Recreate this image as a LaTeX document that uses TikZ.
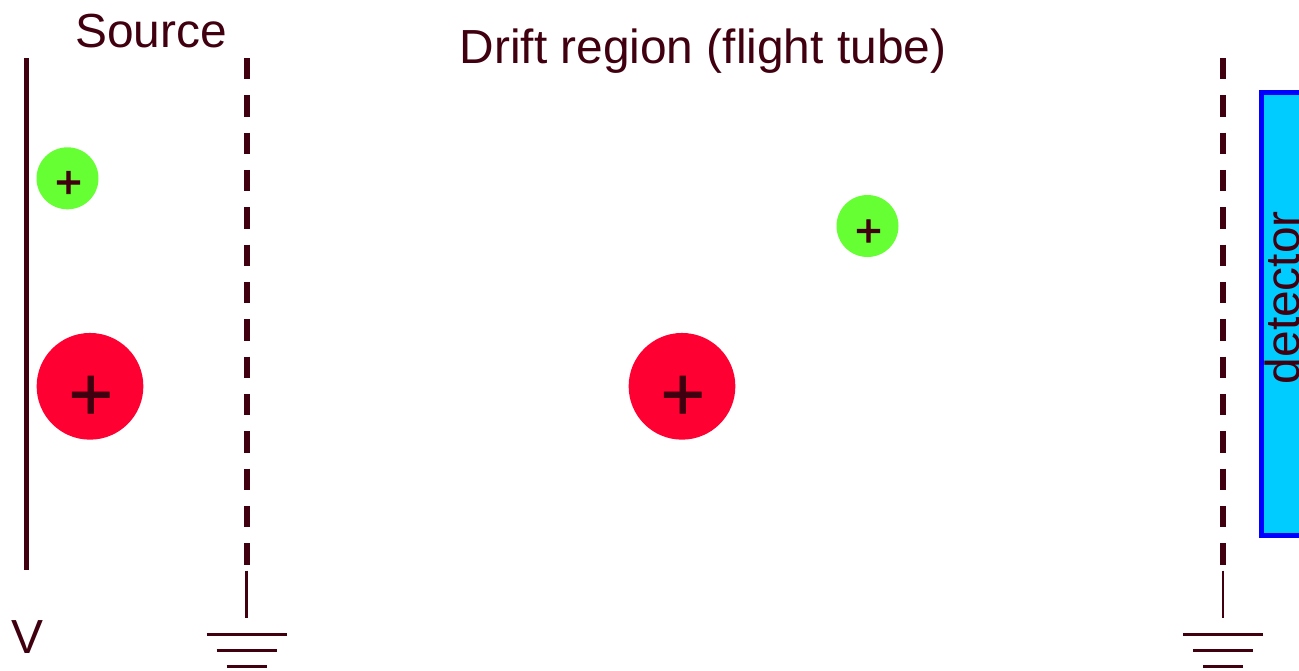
\documentclass[tikz,border=0pt]{standalone}
\usepackage{fontspec}
\setmainfont{Liberation Sans}
\newfontfamily\smallplusfont[FakeBold=2]{Liberation Sans}
\newfontfamily\bigplusfont[FakeBold=1]{Liberation Sans}
\definecolor{ink}{HTML}{400010}
\definecolor{ionG}{HTML}{66FF33}
\definecolor{ionR}{HTML}{FF0033}
\definecolor{detC}{HTML}{00CCFF}
\tikzset{
  txt/.style={inner sep=0pt,text=ink,font=\fontsize{47.85}{48}\selectfont},
  plate/.style={ink,line width=5.33pt},
  grid/.style={plate,dash pattern=on 21.33pt off 16pt},
  thinl/.style={ink,line width=2.67pt},
  smallion/.style={circle,fill=ionG,inner sep=0pt,minimum size=62pt},
  bigion/.style={circle,fill=ionR,inner sep=0pt,minimum size=106.7pt},
  smallplus/.style={inner sep=0pt,text=ink,font=\smallplusfont\fontsize{46}{46}\selectfont},
  bigplus/.style={inner sep=0pt,text=ink,font=\bigplusfont\fontsize{76}{76}\selectfont},
}
\begin{document}
\begin{tikzpicture}[x=1pt,y=-1pt]
\useasboundingbox (0,0) rectangle (1299,670);
\clip (0,0) rectangle (1299,670);
% detector
\draw[blue,line width=5.33pt,fill=detC] (1261.7,92.7) rectangle (1320,535.7);
\node[txt,rotate=90,anchor=base] (det) at (1299,297.7) {detector};
% plates
\coordinate (pt) at (26.7,58); \coordinate (pb) at (26.7,570);
\draw[plate] (pt) -- (pb);
\coordinate (g1t) at (247,58); \coordinate (g1b) at (247,565);
\draw[grid] (g1t) -- (g1b);
\coordinate (g2t) at (1223,58); \coordinate (g2b) at (1223,565);
\draw[grid] (g2t) -- (g2b);
% grounds
\foreach \x/\n in {246.7/a,1223/b}{
  \coordinate (s\n) at (\x,570.5); \coordinate (e\n) at (\x,618);
  \draw[thinl] (s\n) -- (e\n);
  \draw[thinl] (\x-40,634.3) -- (\x+40,634.3);
  \draw[thinl] (\x-30,650.3) -- (\x+30,650.3);
  \draw[thinl] (\x-20,666.3) -- (\x+20,666.3);
}
% ions
\node[smallion] (i1) at (67.5,178.3) {};
\node[smallion] (i2) at (867.5,226) {};
\node[bigion] (i3) at (90,386.3) {};
\node[bigion] (i4) at (682,386.3) {};
\node[smallplus] (p1) at (68.5,184.5) {+};
\node[smallplus] (p2) at (868.5,233) {+};
\node[bigplus] (p3) at (90.7,398) {+};
\node[bigplus] (p4) at (682.7,398) {+};
% labels
\node[txt,anchor=base] (src) at (151,47) {Source};
\node[txt,anchor=base] (drift) at (703,63) {Drift region (flight tube)};
\node[txt,anchor=base] (v) at (27.5,653) {V};
\end{tikzpicture}
\end{document}
